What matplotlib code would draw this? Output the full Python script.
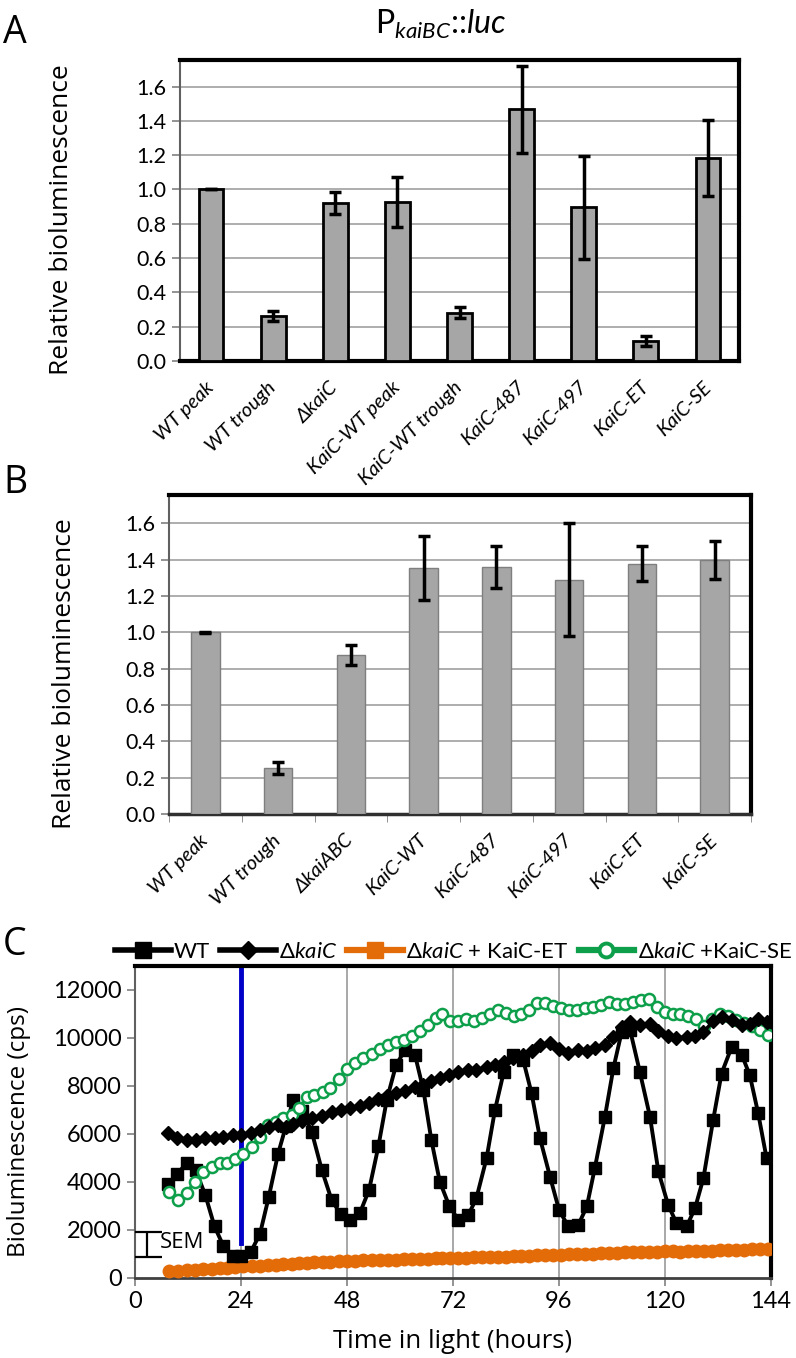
import matplotlib
matplotlib.use("Agg")
import matplotlib.pyplot as plt
from matplotlib.lines import Line2D
from matplotlib.ticker import FormatStrFormatter
import numpy as np

plt.rcParams['font.family'] = ['Lato', 'DejaVu Sans']
plt.rcParams['mathtext.fontset'] = 'custom'
plt.rcParams['mathtext.rm'] = 'Lato'
plt.rcParams['mathtext.it'] = 'Lato:italic'

# ---- panel A data ----
labels_a = ["WT peak", "WT trough", "ΔkaiC", "KaiC-WT peak", "KaiC-WT trough",
            "KaiC-487", "KaiC-497", "KaiC-ET", "KaiC-SE"]
values_a = [1.0, 0.262, 0.92, 0.929, 0.282, 1.467, 0.896, 0.118, 1.182]
errors_a = [0.0, 0.031, 0.064, 0.146, 0.032, 0.252, 0.302, 0.030, 0.222]

# ---- panel B data ----
labels_b = ["WT peak", "WT trough", "ΔkaiABC", "KaiC-WT", "KaiC-487",
            "KaiC-497", "KaiC-ET", "KaiC-SE"]
values_b = [1.0, 0.254, 0.874, 1.355, 1.359, 1.29, 1.377, 1.396]
errors_b = [0.003, 0.033, 0.057, 0.175, 0.116, 0.31, 0.097, 0.105]

# ---- panel C data ----
hours_wt = [7.5, 9.6, 11.7, 13.7, 15.9, 18.0, 20.0, 22.1, 24.1, 26.2,
            28.3, 30.3, 32.4, 34.2, 35.8, 37.9, 40.0, 42.3, 44.5, 46.6,
            48.7, 50.9, 53.0, 55.1, 57.0, 59.1, 61.1, 63.4, 65.3, 67.1,
            69.0, 71.2, 73.2, 75.5, 77.3, 79.6, 81.5, 83.5, 85.6, 87.9,
            89.8, 91.7, 94.0, 96.0, 98.1, 100.4, 102.3, 104.1, 106.4, 108.3,
            110.2, 112.1, 114.3, 116.6, 118.5, 120.7, 122.6, 124.9, 126.8, 128.7,
            130.9, 132.8, 135.1, 137.4, 139.2, 141.1, 143.0]
wt = [3900, 4350, 4780, 4500, 3470, 2150, 1340, 920, 920, 1080,
      1840, 3390, 5180, 6350, 7410, 6950, 6100, 4500, 3260, 2650,
      2430, 2700, 3670, 5480, 7420, 8870, 9490, 9290, 7830, 5750,
      4020, 2980, 2430, 2630, 3330, 4990, 7000, 8590, 9290, 9080,
      7690, 5820, 4200, 2840, 2150, 2220, 2980, 4570, 6720, 8730,
      10260, 10330, 8590, 6720, 4440, 3050, 2290, 2150, 2910, 4160,
      6580, 8520, 9630, 9290, 8450, 6860, 4990]
dkaic = [6030, 5820, 5750, 5750, 5820, 5820, 5890, 5960, 5960, 6030,
         6170, 6300, 6380, 6300, 6400, 6550, 6680, 6740, 6900, 7000,
         7070, 7180, 7300, 7450, 7600, 7720, 7800, 7960, 8060, 8200,
         8330, 8450, 8570, 8660, 8660, 8800, 8870, 9000, 9150, 9300,
         9450, 9700, 9800, 9560, 9360, 9480, 9450, 9580, 9700, 10050,
         10450, 10650, 10550, 10600, 10300, 10100, 10000, 10050, 10100, 10250,
         10700, 10880, 10740, 10530, 10600, 10800, 10670]

hours_mut = [7.7, 9.8, 11.7, 13.5, 15.5, 17.4, 19.2, 20.9, 22.6, 24.5,
             26.4, 28.3, 30.2, 31.9, 33.6, 35.5, 37.2, 38.9, 40.6, 42.5,
             44.2, 46.1, 47.9, 49.8, 51.7, 53.6, 55.5, 57.3, 59.2, 61.0,
             62.8, 64.6, 66.4, 68.2, 69.6, 71.3, 73.1, 74.9, 76.7, 78.5,
             80.3, 82.1, 83.9, 85.7, 87.5, 89.3, 91.1, 92.9, 94.7, 96.5,
             98.3, 100.1, 101.9, 103.7, 105.5, 107.3, 109.1, 110.9, 112.7, 114.5,
             116.3, 118.1, 119.9, 121.7, 123.5, 125.3, 127.1, 128.9, 130.7, 132.5,
             134.3, 136.1, 137.9, 139.7, 141.5, 143.3]
kaic_et = [280, 310, 330, 340, 360, 380, 400, 420, 450, 480,
           500, 520, 540, 560, 580, 600, 610, 630, 650, 660,
           680, 690, 700, 710, 730, 740, 750, 760, 770, 780,
           790, 800, 810, 820, 830, 830, 840, 850, 860, 870,
           870, 880, 890, 900, 910, 930, 940, 950, 960, 975,
           990, 1000, 1010, 1020, 1040, 1050, 1060, 1070, 1080, 1090,
           1100, 1100, 1110, 1110, 1100, 1110, 1120, 1130, 1140, 1150,
           1160, 1170, 1180, 1190, 1200, 1200]
kaic_se = [3600, 3250, 3530, 4020, 4430, 4640, 4780, 4800, 4950, 5150,
           5470, 5890, 6380, 6510, 6650, 6790, 7070, 7550, 7620, 7760,
           7900, 8280, 8700, 8950, 9150, 9350, 9560, 9720, 9840, 9900,
           10100, 10300, 10550, 10850, 11000, 10700, 10700, 10780, 10700, 10850,
           11000, 11150, 11050, 10900, 11000, 11150, 11450, 11450, 11350, 11250,
           11150, 11170, 11230, 11300, 11370, 11480, 11430, 11430, 11500, 11570,
           11640, 11300, 11100, 11020, 11020, 10900, 10780, 10480, 10800, 11020,
           10900, 10760, 10620, 10480, 10350, 10120]

light_on_hour = 24
sem_value = 520

W, H = 796, 1358
fig = plt.figure(figsize=(W / 100, H / 100), dpi=100)
label_font = ['Open Sans', 'DejaVu Sans']


def box(left, top, right, bottom):
    return [left / W, 1 - bottom / H, (right - left) / W, (bottom - top) / H]


def bar_panel(ax, labels, values, errors, width, edge, edge_lw, bottom_lw):
    x = np.arange(len(labels))
    ax.bar(x, values, width=width, color='#a6a6a6', edgecolor=edge,
           linewidth=edge_lw, zorder=3)
    ax.errorbar(x, values, yerr=errors, fmt='none', ecolor='black',
                elinewidth=2.5, capsize=4.5, capthick=2.5, zorder=4)
    ax.set_xlim(-0.5, len(labels) - 0.5)
    ax.set_ylim(0, 1.755)
    ax.set_yticks(np.arange(0, 1.61, 0.2))
    ax.yaxis.set_major_formatter(FormatStrFormatter('%.1f'))
    ax.yaxis.grid(True, color='#a0a0a0', linewidth=1.2)
    ax.set_axisbelow(True)
    ax.set_xticks(x)
    ax.set_xticklabels(labels, rotation=45, ha='right', va='center',
                       rotation_mode='anchor', style='italic', fontsize=14.5)
    ax.tick_params(axis='x', length=0, pad=17)
    ax.tick_params(axis='y', labelsize=15.5, length=6, width=1.2,
                   color='#808080', direction='out', pad=4)
    ax.set_ylabel("Relative bioluminescence", fontsize=19, family=label_font)
    for s in ['top', 'right']:
        ax.spines[s].set_linewidth(3)
        ax.spines[s].set_color('black')
    ax.spines['left'].set_linewidth(1.5)
    ax.spines['left'].set_color('#606060')
    ax.spines['bottom'].set_linewidth(bottom_lw)
    ax.spines['bottom'].set_color('black')
    return x


# ---- panel A ----
ax_a = fig.add_axes(box(180, 60, 739, 361))
bar_panel(ax_a, labels_a, values_a, errors_a, 0.4, 'black', 2, 3)
ax_a.yaxis.set_label_coords(-0.19, 0.47)

# ---- panel B ----
ax_b = fig.add_axes(box(169, 495, 751, 814))
bar_panel(ax_b, labels_b, values_b, errors_b, 0.39, '#7f7f7f', 1, 2.5)
ax_b.set_xticks(np.arange(-0.5, len(labels_b)), minor=True)
ax_b.tick_params(axis='x', which='minor', length=6, color='#808080')
ax_b.yaxis.set_label_coords(-0.158, 0.44)
ax_b.spines['bottom'].set_color('#303030')

# ---- panel C ----
ax_c = fig.add_axes(box(135, 966, 771, 1278))
ax_c.plot([light_on_hour, light_on_hour], [1470, 13000], color='#0000C8',
          linewidth=3.5, zorder=2)
ax_c.plot(hours_mut, kaic_et, color='#E36C09', marker='o', markersize=9,
          linewidth=3, zorder=3)
ax_c.plot(hours_wt, wt, color='black', marker='s', markersize=8.5,
          linewidth=2.8, zorder=4)
ax_c.plot(hours_mut, kaic_se, color='#0E9F4B', marker='o', markersize=8,
          markerfacecolor='white', markeredgewidth=1.8, linewidth=2.5, zorder=5)
ax_c.plot(hours_wt, dkaic, color='black', marker='D', markersize=7.5,
          linewidth=2.5, zorder=6)

ax_c.errorbar([2.7], [1400], yerr=[sem_value], fmt='none', ecolor='black',
              elinewidth=1.6, capsize=11, capthick=1.6, zorder=7)
ax_c.text(5.6, 1470, "SEM", fontsize=16, va='center', ha='left',
          family=label_font)

ax_c.set_xlim(0, 144)
ax_c.set_ylim(0, 13000)
ax_c.set_xticks(np.arange(0, 145, 24))
ax_c.set_yticks(np.arange(0, 12001, 2000))
ax_c.xaxis.grid(True, color='#999999', linewidth=1.2)
ax_c.set_axisbelow(True)
ax_c.tick_params(labelsize=17, length=6, width=1.2, color='#808080',
                 direction='out')
ax_c.set_xlabel("Time in light (hours)", fontsize=18.5, family=label_font)
ax_c.set_ylabel("Bioluminescence (cps)", fontsize=17.5, family=label_font)
ax_c.yaxis.set_label_coords(-0.163, 0.47)
ax_c.xaxis.set_label_coords(0.5, -0.165)
for s in ['top', 'right']:
    ax_c.spines[s].set_linewidth(3)
ax_c.spines['left'].set_linewidth(1.5)
ax_c.spines['left'].set_color('#606060')
ax_c.spines['bottom'].set_linewidth(2)
ax_c.spines['bottom'].set_color('#404040')

handles = [
    Line2D([], [], color='black', lw=4, marker='s', markersize=11),
    Line2D([], [], color='black', lw=4, marker='D', markersize=9),
    Line2D([], [], color='#E36C09', lw=4.5, marker='s', markersize=12),
    Line2D([], [], color='#0E9F4B', lw=4.5, marker='o', markersize=10,
           markerfacecolor='white', markeredgewidth=2.8),
]
names = ["WT", r"Δ$\mathit{kaiC}$", r"Δ$\mathit{kaiC}$ + KaiC-ET",
         r"Δ$\mathit{kaiC}$ +KaiC-SE"]
fig.legend(handles, names, loc='center', bbox_to_anchor=(0.57, 1 - 952 / H),
           ncol=4, frameon=False, fontsize=16, handlelength=2.5,
           handletextpad=0.15, columnspacing=0.45)

# ---- titles / panel letters ----
fig.text(0.553, 1 - 24 / H, r"P$_{\mathit{kaiBC}}$::$\mathit{luc}$",
         fontsize=23, ha='center', va='center')
for letter, y in [("A", 33), ("B", 483), ("C", 945)]:
    fig.text(0.004, 1 - y / H, letter, fontsize=27, va='center', ha='left',
             family=label_font)

fig.savefig("out.png", dpi=100)
